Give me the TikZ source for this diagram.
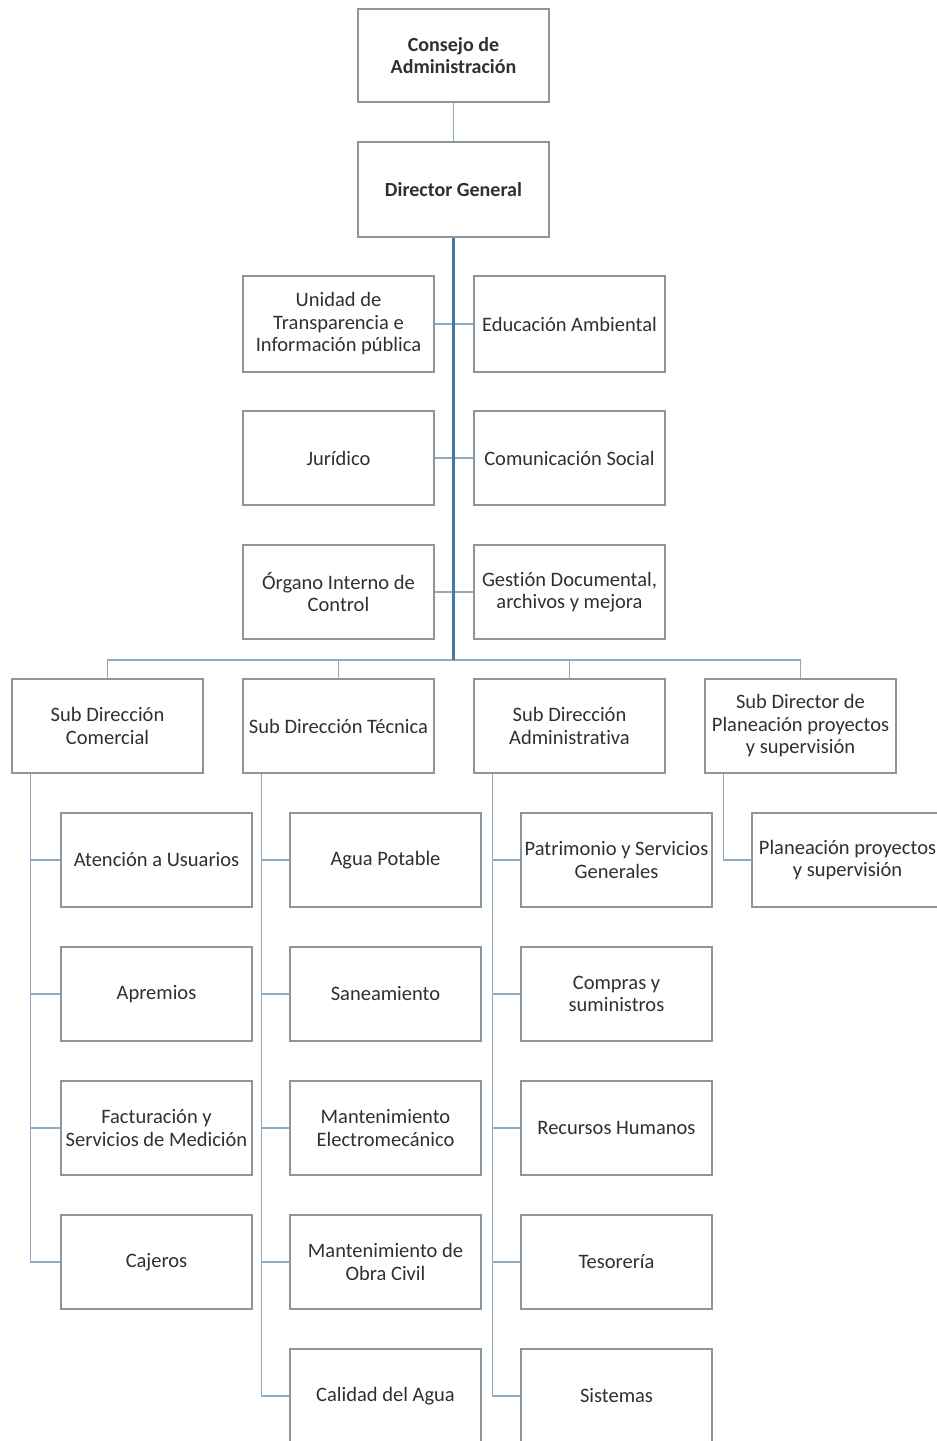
\documentclass[tikz,border=0pt]{standalone}
\usepackage{fontspec}
\setmainfont[Ligatures=NoCommon]{Carlito}
\usetikzlibrary{calc}
\definecolor{boxline}{HTML}{8E969C}
\definecolor{conn}{HTML}{8FAABF}
\definecolor{mainline}{HTML}{3F7BA8}
\definecolor{txt}{HTML}{303030}
\begin{document}
\begin{tikzpicture}[x=1pt,y=-1pt,
  orgbox/.style={draw=boxline, line width=1.4pt, fill=white, minimum width=191pt, minimum height=94pt,
    inner sep=1pt, align=center, text=txt, font=\fontsize{20.5}{22.5}\selectfont},
  topbox/.style={orgbox, font=\fontsize{20}{22.5}\selectfont\bfseries},
  link/.style={draw=conn, line width=1.6pt},
  mainlink/.style={draw=mainline, line width=2.6pt}]
\useasboundingbox (0,0) rectangle (937,1441);
\clip (0,0) rectangle (937,1441);
\fill[white] (0,0) rectangle (937,1441);

% top
\node[topbox, minimum height=93pt] (cons) at (453.5,55.5) {Consejo de\\Administración};
\node[topbox, minimum height=95pt] (dg) at (453.5,189.5) {Director General};

% staff
\node[orgbox, minimum height=96pt] (ut) at (338.5,324) {Unidad de\\Transparencia e\\Información pública};
\node[orgbox, minimum height=96pt] (ea) at (569.5,324) {Educación Ambiental};
\node[orgbox] (ju) at (338.5,458) {Jurídico};
\node[orgbox] (cs) at (569.5,458) {Comunicación Social};
\node[orgbox] (oi) at (338.5,592) {Órgano Interno de\\Control};
\node[orgbox] (gd) at (569.5,592) {Gestión Documental,\\archivos y mejora};

% sub directions
\node[orgbox] (sc) at (107.5,726) {Sub Dirección\\Comercial};
\node[orgbox] (st) at (338.5,726) {Sub Dirección Técnica};
\node[orgbox] (sa) at (569.5,726) {Sub Dirección\\Administrativa};
\node[orgbox] (sp) at (800.5,726) {Sub Director de\\Planeación proyectos\\y supervisión};

% comercial children
\node[orgbox] (c1) at (156.5,860) {Atención a Usuarios};
\node[orgbox] (c2) at (156.5,994) {Apremios};
\node[orgbox] (c3) at (156.5,1128) {Facturación y\\Servicios de Medición};
\node[orgbox] (c4) at (156.5,1262) {Cajeros};

% tecnica children
\node[orgbox] (t1) at (385.5,860) {Agua Potable};
\node[orgbox] (t2) at (385.5,994) {Saneamiento};
\node[orgbox] (t3) at (385.5,1128) {Mantenimiento\\Electromecánico};
\node[orgbox] (t4) at (385.5,1262) {Mantenimiento de\\Obra Civil};
\node[orgbox] (t5) at (385.5,1396) {Calidad del Agua};

% administrativa children
\node[orgbox] (a1) at (616.5,860) {Patrimonio y Servicios\\Generales};
\node[orgbox] (a2) at (616.5,994) {Compras y\\suministros};
\node[orgbox] (a3) at (616.5,1128) {Recursos Humanos};
\node[orgbox] (a4) at (616.5,1262) {Tesorería};
\node[orgbox] (a5) at (616.5,1396) {Sistemas};

% planeacion child
\node[orgbox] (p1) at (847.5,860) {Planeación proyectos\\y supervisión};

% connectors
\coordinate (bus) at (453.5,660);
\draw[link] (cons.south) -- (dg.north);
\draw[link] (ut.east) -- (ea.west);
\draw[link] (ju.east) -- (cs.west);
\draw[link] (oi.east) -- (gd.west);
\draw[link] (sc.north) |- (bus) -| (sp.north);
\draw[link] (st.north) -- (st.north |- bus);
\draw[link] (sa.north) -- (sa.north |- bus);
\draw[mainlink] (dg.south) -- (bus);

\coordinate (vc) at ($(sc.south west)+(19,0)$);
\coordinate (vt) at ($(st.south west)+(19,0)$);
\coordinate (va) at ($(sa.south west)+(19,0)$);
\coordinate (vp) at ($(sp.south west)+(19,0)$);
\foreach \n in {c1,c2,c3,c4} \draw[link] (vc) |- (\n.west);
\foreach \n in {t1,t2,t3,t4,t5} \draw[link] (vt) |- (\n.west);
\foreach \n in {a1,a2,a3,a4,a5} \draw[link] (va) |- (\n.west);
\draw[link] (vp) |- (p1.west);
\end{tikzpicture}
\end{document}
